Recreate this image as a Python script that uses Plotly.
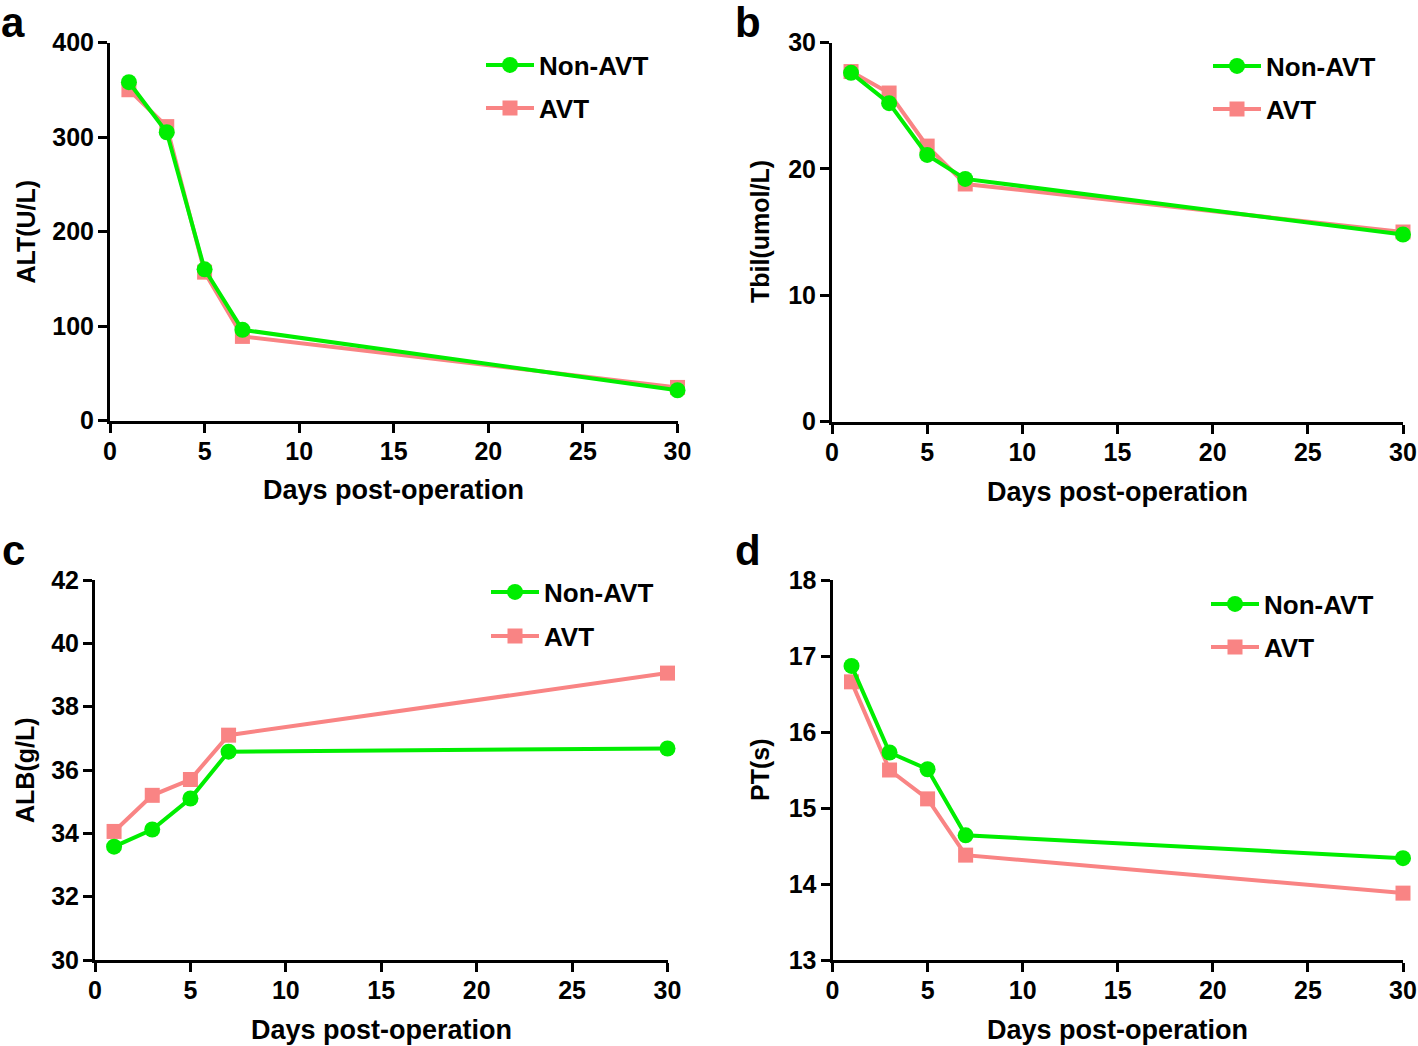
import plotly.graph_objects as go

# ---- data ----
days = [1, 3, 5, 7, 30]
series_names = ["Non-AVT", "AVT"]

alt_non = [358, 305, 160, 96, 32]
alt_avt = [350, 311, 157, 89, 35]

tbil_non = [27.6, 25.2, 21.1, 19.2, 14.8]
tbil_avt = [27.7, 26.0, 21.8, 18.8, 15.0]

alb_non = [33.58, 34.12, 35.1, 36.58, 36.68]
alb_avt = [34.06, 35.2, 35.7, 37.1, 39.06]

pt_non = [16.87, 15.73, 15.51, 14.64, 14.34]
pt_avt = [16.66, 15.5, 15.12, 14.38, 13.88]

x_ticks = [0, 5, 10, 15, 20, 25, 30]
panel_letters = ["a", "b", "c", "d"]
y_titles = ["ALT(U/L)", "Tbil(umol/L)", "ALB(g/L)", "PT(s)"]
x_title = "Days post-operation"
y_ranges = [[0, 400], [0, 30], [30, 42], [13, 18]]
y_dticks = [100, 10, 2, 1]

# ---- layout geometry (pixels) ----
W, H = 1418, 1046
GREEN = "#00EE00"
PINK = "#F98484"
FONT = "Liberation Sans, Arial, sans-serif"


def fx(p):
    return p / W


def fy(p):
    return 1 - p / H


# (x0px, x30px, ytop_px, ybottom_px)
boxes = [
    (110, 677.5, 42.5, 420.5),
    (832, 1403, 42.5, 421.5),
    (95, 667.5, 580, 960),
    (832.5, 1403, 580, 960),
]
# legend anchor (marker centre x, Non-AVT y, AVT y)
legend_pos = [
    (510, 65, 108),
    (1237, 66, 109),
    (515, 592, 636),
    (1235, 604, 647),
]
ytitle_x = [25, 760, 25, 760]
xtitle_y = [490, 492, 1030, 1030]
letter_pos = [(13, 22), (748, 22), (13, 550), (748, 550)]

data_sets = [
    (alt_non, alt_avt),
    (tbil_non, tbil_avt),
    (alb_non, alb_avt),
    (pt_non, pt_avt),
]

fig = go.Figure()
layout = dict(
    template="none",
    width=W,
    height=H,
    margin=dict(l=0, r=0, t=0, b=0, autoexpand=False),
    paper_bgcolor="white",
    plot_bgcolor="white",
    showlegend=True,
    font=dict(family=FONT, color="black"),
)
annotations = []

for i, (box, (non, avt)) in enumerate(zip(boxes, data_sets)):
    k = "" if i == 0 else str(i + 1)
    xa, ya = "x" + k, "y" + k
    x0, x1, yt, yb = box
    leg_non = "legend" + ("" if i == 0 else str(2 * i + 1))
    leg_avt = "legend" + str(2 * i + 2)

    fig.add_trace(go.Scatter(
        x=days, y=avt, name=series_names[1], mode="lines+markers",
        line=dict(color=PINK, width=4),
        marker=dict(symbol="square", size=15, color=PINK),
        xaxis=xa, yaxis=ya, legend=leg_avt, cliponaxis=False,
    ))
    fig.add_trace(go.Scatter(
        x=days, y=non, name=series_names[0], mode="lines+markers",
        line=dict(color=GREEN, width=4),
        marker=dict(symbol="circle", size=16, color=GREEN),
        xaxis=xa, yaxis=ya, legend=leg_non, cliponaxis=False,
    ))

    axis_common = dict(
        showline=True, linecolor="black", linewidth=3,
        ticks="outside", ticklen=9, tickwidth=3, tickcolor="black",
        showgrid=False, zeroline=False, automargin=False,
        tickfont=dict(family=FONT, size=25, color="black", weight="bold"),
    )
    layout["xaxis" + k] = dict(
        axis_common, domain=[fx(x0), fx(x1)], anchor=ya,
        range=[0, 30], tickvals=x_ticks, ticklabelstandoff=-3,
    )
    layout["yaxis" + k] = dict(
        axis_common, domain=[fy(yb), fy(yt)], anchor=xa,
        range=y_ranges[i], dtick=y_dticks[i], tick0=y_ranges[i][0],
        ticklabelstandoff=-1,
    )

    lx, ly_non, ly_avt = legend_pos[i]
    for name, ly in ((leg_non, ly_non), (leg_avt, ly_avt)):
        layout[name] = dict(
            x=fx(lx - 29), y=fy(ly), xanchor="left", yanchor="middle",
            bgcolor="rgba(0,0,0,0)", itemwidth=48,
            font=dict(family=FONT, size=26, color="black", weight="bold"),
        )

    # axis titles and panel letters
    annotations.append(dict(
        text=y_titles[i], xref="paper", yref="paper",
        x=fx(ytitle_x[i]), y=fy((yt + yb) / 2), textangle=-90,
        showarrow=False, xanchor="center", yanchor="middle",
        font=dict(family=FONT, size=25, color="black", weight="bold"),
    ))
    annotations.append(dict(
        text=x_title, xref="paper", yref="paper",
        x=fx((x0 + x1) / 2), y=fy(xtitle_y[i]),
        showarrow=False, xanchor="center", yanchor="middle",
        font=dict(family=FONT, size=27, color="black", weight="bold"),
    ))
    lpx, lpy = letter_pos[i]
    annotations.append(dict(
        text=panel_letters[i], xref="paper", yref="paper",
        x=fx(lpx), y=fy(lpy),
        showarrow=False, xanchor="center", yanchor="middle",
        font=dict(family=FONT, size=42, color="black", weight="bold"),
    ))

layout["annotations"] = annotations
fig.update_layout(**layout)
fig.write_html(
    "out.html",
    config={"displayModeBar": False},
    post_script="document.body.style.margin='0';document.body.style.overflow='hidden';",
)
